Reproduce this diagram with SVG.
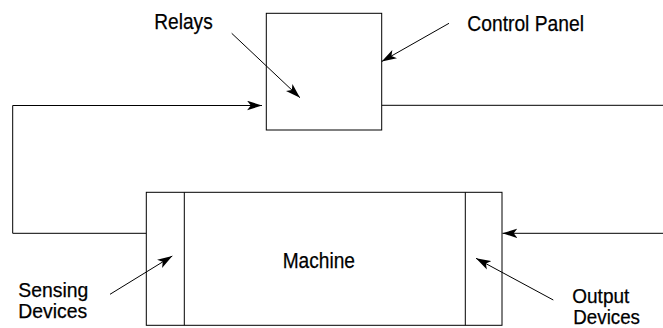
<svg xmlns="http://www.w3.org/2000/svg" width="663" height="328" viewBox="0 0 663 328">
<style>
.box{fill:#fff;stroke:#000;stroke-width:1}
.ln{fill:none;stroke:#000;stroke-width:1}
.arr{fill:none;stroke:#000;stroke-width:1;marker-end:url(#ah)}
text{font-family:"Liberation Sans",Arial,sans-serif;font-size:22px;fill:#000;stroke:#000;stroke-width:0.25}
text.two{font-size:20px}
</style>
<defs>
<marker id="ah" markerUnits="userSpaceOnUse" markerWidth="16" markerHeight="10" refX="14" refY="4.5" orient="auto" viewBox="0 0 15 9">
<path d="M0,0 L14,4.5 L0,9 L3.5,4.5 z" fill="#000"/>
</marker>
</defs>
<g id="connectors">
<polyline class="ln" points="146.3,233.3 12.7,233.3 12.7,105.5 250,105.5"/>
<path class="arr" d="M245,105.5 L262,105.5"/>
<path class="ln" d="M381.7,105.3 L663,105.3"/>
<path class="arr" d="M663,233.3 L502.5,233.3"/>
</g>
<g id="control-panel">
<rect class="box" x="266.3" y="13.3" width="115.4" height="116.7"/>
</g>
<g id="machine">
<rect class="box" x="146.3" y="192.3" width="355.7" height="133"/>
<line class="ln" x1="184.3" y1="192.3" x2="184.3" y2="325.3"/>
<line class="ln" x1="465.3" y1="192.3" x2="465.3" y2="325.3"/>
<text x="282.7" y="268.3" textLength="72.3" lengthAdjust="spacingAndGlyphs">Machine</text>
</g>
<g id="label-relays">
<text x="154.3" y="29" textLength="58.4" lengthAdjust="spacingAndGlyphs">Relays</text>
<path class="arr" d="M231.7,33.3 L300,97.7"/>
</g>
<g id="label-control-panel">
<text x="467.3" y="30.7" textLength="116.7" lengthAdjust="spacingAndGlyphs">Control Panel</text>
<path class="arr" d="M449,23.3 L381.7,61.5"/>
</g>
<g id="label-sensing">
<text class="two"><tspan x="18.3" y="296.5" textLength="70" lengthAdjust="spacingAndGlyphs">Sensing</tspan><tspan x="18.3" y="318.3" textLength="69" lengthAdjust="spacingAndGlyphs">Devices</tspan></text>
<path class="arr" d="M110,294.3 L172.3,256"/>
</g>
<g id="label-output">
<text class="two"><tspan x="572.3" y="302.5" textLength="57" lengthAdjust="spacingAndGlyphs">Output</tspan><tspan x="573.3" y="324.3" textLength="66.7" lengthAdjust="spacingAndGlyphs">Devices</tspan></text>
<path class="arr" d="M553.3,300 L476,258.3"/>
</g>
</svg>
